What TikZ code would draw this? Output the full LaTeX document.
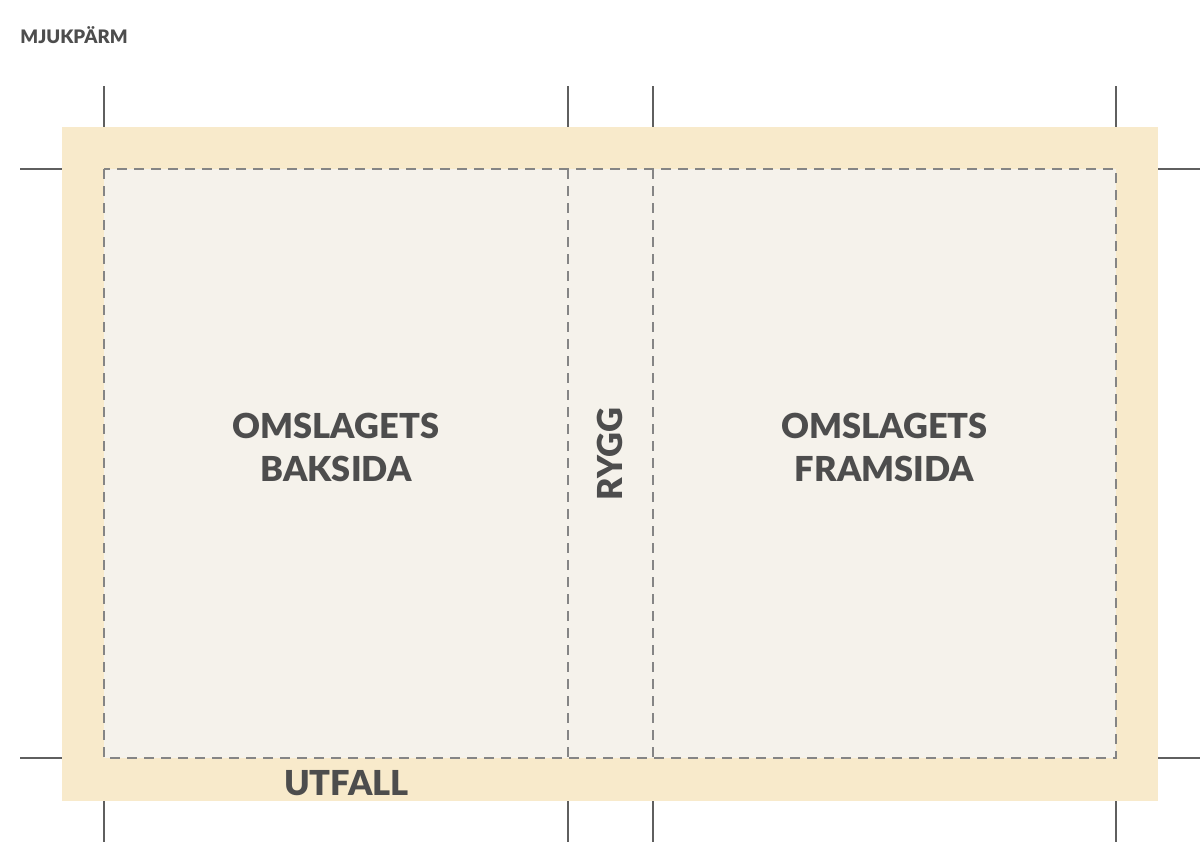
\documentclass[tikz,border=0pt]{standalone}
\usepackage{fontspec}
\setmainfont{Lato}[UprightFont=* Black]
\definecolor{bleed}{HTML}{F8EACB}
\definecolor{page}{HTML}{F5F2EB}
\definecolor{ink}{HTML}{4D4D4D}
\definecolor{crop}{HTML}{5F5F5F}
\definecolor{trim}{HTML}{858585}
\begin{document}
\begin{tikzpicture}[x=0.5pt,y=-0.5pt,
  cropmark/.style={draw=crop,line width=1pt},
  trimline/.style={draw=trim,line width=0.6pt,dash pattern=on 5pt off 3.5pt},
  bigtext/.style={text=ink,font=\fontsize{17.2}{21.5}\selectfont,align=center,inner sep=0pt},
  smalltext/.style={text=ink,font=\fontsize{9.3}{11}\selectfont,inner sep=0pt}]
\useasboundingbox (0,0) rectangle (1200,843);
% bleed and page areas
\fill[bleed] (62,127) rectangle (1158,801);
\fill[page] (104,169) rectangle (1116,758);
% trim lines
\draw[trimline] (104,169) rectangle (1116,758);
\draw[trimline] (568,169) -- (568,758);
\draw[trimline] (653,169) -- (653,758);
% crop marks
\foreach \x in {104,568,653,1116}{
  \draw[cropmark] (\x,86) -- (\x,127);
  \draw[cropmark] (\x,801) -- (\x,842);
}
\foreach \y in {169,758}{
  \draw[cropmark] (20,\y) -- (62,\y);
  \draw[cropmark] (1158,\y) -- (1200,\y);
}
% texts
\node[smalltext,anchor=base west] (title) at (20,43) {MJUKPÄRM};
\node[bigtext,anchor=base] (back1) at (336,438) {OMSLAGETS};
\node[bigtext,anchor=base] (back2) at (336,481) {BAKSIDA};
\node[bigtext,anchor=base] (front1) at (884.5,438) {OMSLAGETS};
\node[bigtext,anchor=base] (front2) at (884.5,481) {FRAMSIDA};
\node[bigtext,rotate=90] (spine) at (610,454) {RYGG};
\node[bigtext,anchor=base] (bleedlabel) at (346.5,795) {UTFALL};
\end{tikzpicture}
\end{document}
